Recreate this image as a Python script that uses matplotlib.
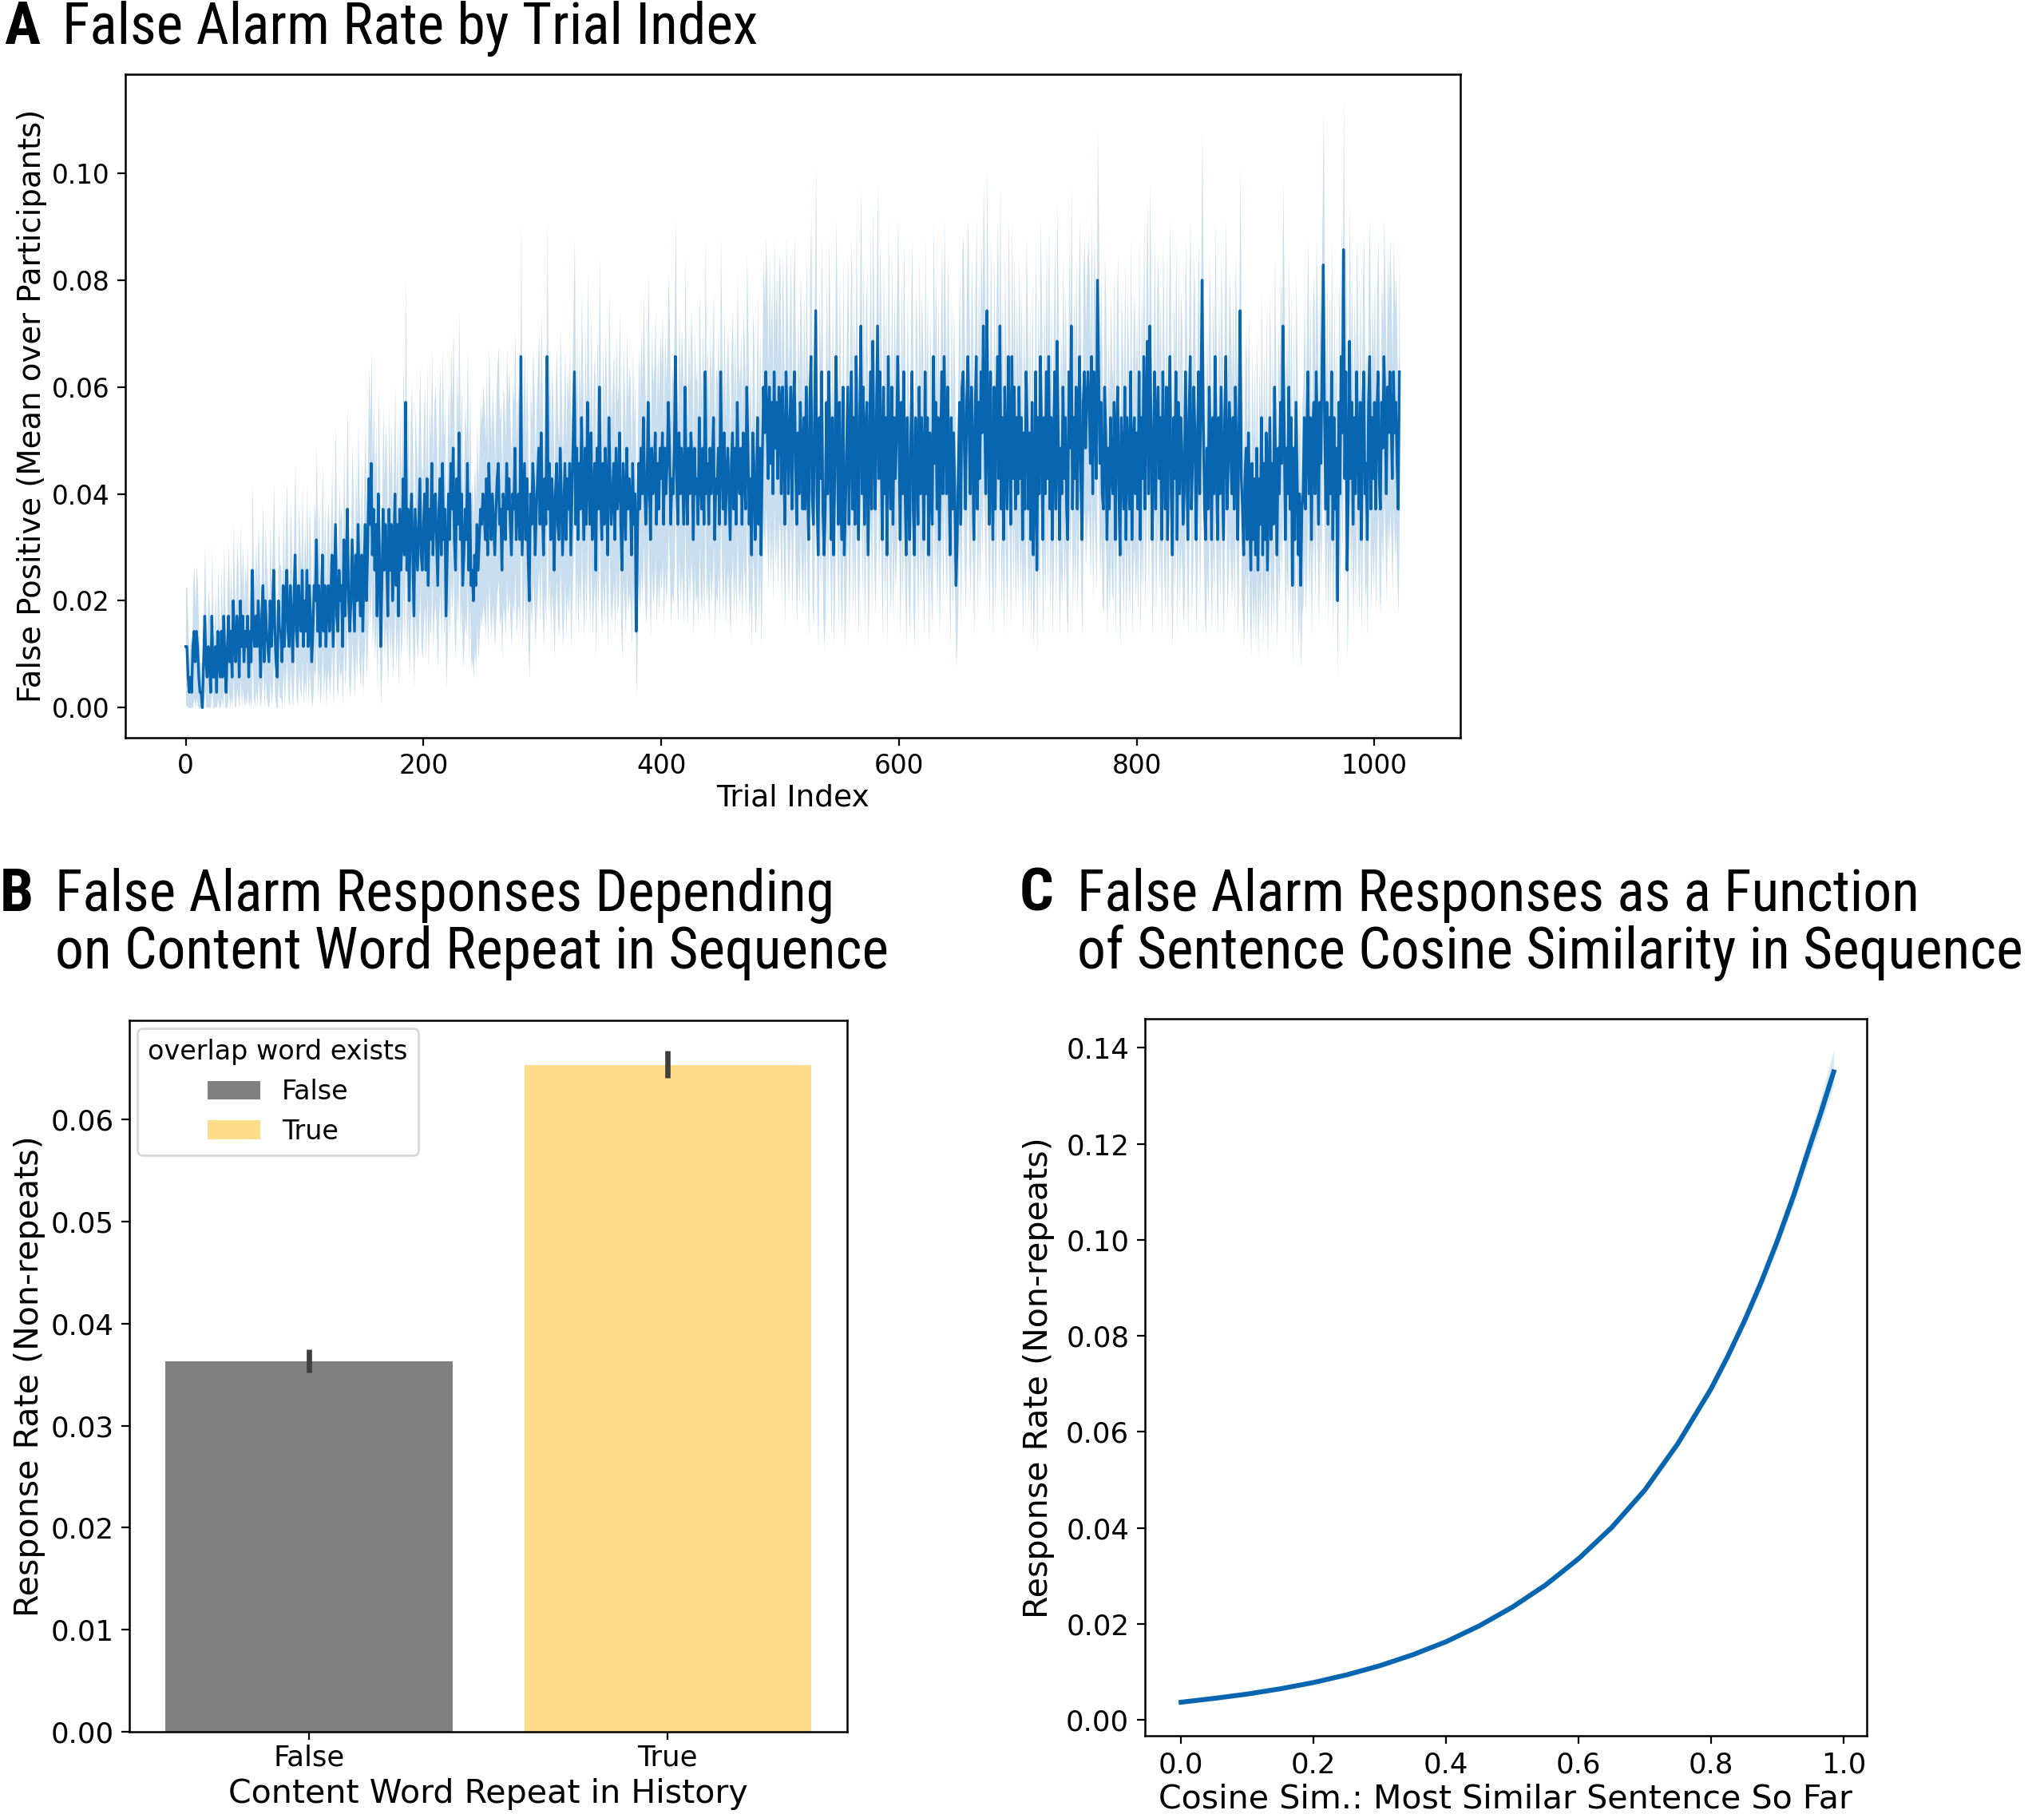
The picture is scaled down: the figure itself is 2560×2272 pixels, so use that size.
#### Workspace setup ####
import numpy as np
import matplotlib
matplotlib.use('Agg')
import matplotlib.pyplot as plt
from matplotlib import font_manager

#### Data ####
# Panel A: number of false alarms per trial index (out of N_PARTICIPANTS)
N_PARTICIPANTS = 350
FA_COUNTS = [
    4, 4, 2, 1, 2, 1, 4, 5, 3, 5, 4, 2, 1, 1, 0, 3, 6, 3, 2, 4,
    3, 1, 6, 2, 2, 4, 1, 5, 3, 2, 5, 2, 6, 3, 1, 4, 6, 3, 5, 2,
    7, 4, 3, 6, 5, 2, 7, 4, 6, 3, 5, 4, 6, 2, 5, 3, 9, 5, 4, 6,
    4, 7, 5, 2, 6, 8, 3, 7, 5, 4, 3, 7, 4, 6, 9, 5, 3, 2, 7, 5,
    5, 3, 8, 4, 7, 9, 5, 4, 8, 6, 3, 7, 10, 5, 4, 8, 6, 5, 9, 4,
    7, 5, 9, 4, 8, 6, 3, 5, 8, 7, 11, 5, 8, 4, 6, 10, 5, 8, 4, 7,
    8, 5, 7, 10, 4, 8, 12, 6, 5, 9, 7, 8, 4, 11, 6, 9, 13, 7, 5, 7,
    11, 8, 5, 10, 7, 12, 8, 6, 10, 5, 9, 12, 7, 10, 15, 12, 16, 10, 13, 9,
    12, 6, 14, 10, 4, 8, 13, 9, 12, 10, 6, 13, 9, 12, 7, 10, 14, 8, 12, 6,
    13, 9, 11, 15, 10, 20, 9, 13, 7, 12, 14, 10, 6, 13, 11, 9, 12, 15, 10, 9,
    12, 14, 9, 15, 8, 13, 11, 16, 10, 13, 14, 11, 8, 13, 15, 10, 16, 11, 13, 6,
    10, 14, 11, 16, 13, 17, 11, 9, 15, 12, 18, 11, 14, 8, 10, 13, 11, 16, 9, 14,
    8, 9, 7, 10, 8, 12, 9, 11, 13, 12, 14, 13, 11, 15, 10, 16, 13, 11, 14, 12,
    10, 13, 15, 16, 12, 13, 9, 14, 13, 11, 16, 13, 15, 12, 10, 14, 13, 17, 11, 13,
    14, 11, 23, 10, 13, 16, 11, 15, 10, 7, 14, 12, 16, 14, 10, 13, 15, 17, 12, 18,
    13, 10, 15, 12, 23, 13, 16, 11, 15, 13, 9, 14, 16, 12, 11, 17, 14, 10, 13, 16,
    11, 15, 13, 16, 10, 14, 18, 22, 12, 17, 11, 16, 13, 19, 14, 11, 17, 12, 20, 15,
    12, 18, 11, 14, 16, 9, 17, 13, 21, 14, 11, 16, 12, 17, 14, 10, 19, 15, 12, 14,
    16, 11, 17, 13, 14, 18, 12, 9, 16, 14, 11, 17, 13, 15, 14, 10, 16, 12, 14, 5,
    11, 16, 13, 17, 14, 19, 15, 12, 14, 20, 15, 11, 17, 14, 15, 18, 12, 16, 13, 17,
    15, 18, 12, 17, 14, 16, 20, 17, 12, 15, 14, 17, 23, 15, 12, 18, 14, 17, 15, 12,
    21, 15, 12, 17, 14, 18, 16, 11, 17, 14, 15, 12, 19, 15, 13, 17, 12, 22, 14, 16,
    12, 17, 14, 16, 19, 11, 15, 14, 17, 12, 22, 16, 13, 18, 12, 15, 17, 14, 11, 16,
    18, 13, 17, 12, 20, 15, 14, 17, 12, 18, 16, 13, 21, 17, 12, 15, 10, 18, 16, 11,
    13, 19, 12, 17, 10, 16, 21, 18, 22, 19, 15, 21, 16, 20, 14, 22, 17, 20, 15, 21,
    20, 14, 21, 17, 12, 22, 19, 14, 18, 21, 13, 19, 22, 16, 12, 18, 14, 20, 17, 13,
    19, 13, 21, 15, 11, 20, 23, 14, 12, 19, 26, 14, 10, 19, 15, 22, 13, 10, 13, 20,
    14, 22, 17, 11, 19, 10, 15, 23, 18, 12, 20, 14, 11, 21, 10, 13, 17, 21, 12, 18,
    22, 13, 19, 12, 23, 16, 11, 19, 25, 14, 21, 12, 18, 20, 10, 16, 22, 13, 24, 17,
    13, 19, 25, 15, 22, 17, 11, 21, 14, 19, 10, 23, 16, 13, 21, 12, 19, 15, 18, 23,
    18, 11, 20, 14, 22, 15, 10, 19, 14, 11, 18, 22, 13, 10, 19, 17, 12, 21, 14, 19,
    16, 11, 22, 14, 19, 10, 18, 14, 12, 23, 16, 20, 13, 19, 11, 17, 22, 14, 23, 18,
    14, 21, 16, 10, 19, 13, 18, 14, 8, 11, 16, 20, 12, 21, 22, 17, 13, 20, 23, 18,
    14, 21, 17, 11, 19, 23, 13, 20, 15, 22, 18, 25, 20, 14, 26, 18, 12, 22, 16, 11,
    21, 13, 19, 23, 15, 25, 13, 19, 11, 21, 16, 13, 23, 18, 12, 23, 15, 21, 13, 19,
    14, 21, 15, 19, 11, 18, 13, 22, 18, 13, 18, 11, 20, 10, 14, 22, 9, 19, 14, 23,
    18, 11, 19, 14, 22, 15, 23, 13, 19, 11, 17, 22, 13, 24, 18, 11, 17, 14, 21, 15,
    19, 13, 11, 22, 17, 25, 13, 19, 15, 21, 13, 19, 23, 15, 11, 20, 22, 17, 20, 22,
    20, 16, 23, 14, 22, 19, 15, 28, 22, 16, 20, 14, 13, 21, 18, 11, 17, 13, 19, 15,
    14, 20, 11, 18, 21, 14, 10, 19, 16, 13, 21, 11, 19, 16, 13, 22, 11, 17, 19, 14,
    18, 13, 22, 11, 19, 15, 23, 13, 20, 24, 14, 25, 19, 11, 16, 22, 13, 19, 21, 15,
    19, 11, 22, 16, 13, 21, 11, 19, 23, 14, 10, 19, 15, 22, 11, 20, 14, 19, 17, 12,
    14, 22, 17, 11, 19, 23, 13, 16, 21, 18, 11, 17, 22, 14, 20, 28, 19, 13, 11, 17,
    13, 21, 17, 11, 19, 14, 23, 16, 11, 19, 14, 21, 16, 11, 19, 23, 13, 16, 20, 17,
    14, 19, 13, 21, 17, 11, 18, 26, 15, 13, 10, 15, 17, 11, 18, 13, 9, 16, 11, 15,
    10, 17, 9, 15, 12, 19, 10, 16, 11, 18, 9, 14, 19, 11, 16, 12, 21, 15, 10, 17,
    14, 20, 16, 25, 19, 11, 17, 14, 21, 13, 19, 8, 17, 11, 20, 15, 10, 14, 8, 13,
    14, 19, 13, 17, 22, 14, 19, 11, 18, 20, 14, 22, 18, 12, 20, 16, 23, 29, 19, 13,
    20, 12, 19, 14, 22, 11, 19, 13, 17, 7, 20, 14, 23, 18, 30, 15, 22, 9, 14, 24,
    15, 20, 12, 19, 14, 22, 17, 13, 20, 11, 19, 22, 14, 16, 11, 20, 23, 13, 19, 15,
    20, 13, 19, 22, 15, 13, 20, 17, 23, 19, 14, 21, 18, 22, 19, 15, 22, 18, 20, 16,
    13, 22,
]

# Panel B: mean response rate and 95% CI by content word repeat
B_CATEGORIES = ['False', 'True']
B_MEANS = [0.0363, 0.0653]
B_CI_LOW = [0.0352, 0.0641]
B_CI_HIGH = [0.0375, 0.0667]

# Panel C: fitted response rate vs cosine similarity
C_X = [0.0, 0.05, 0.1, 0.15, 0.2, 0.25, 0.3, 0.35, 0.4, 0.45, 0.5, 0.55,
       0.6, 0.65, 0.7, 0.75, 0.8, 0.825, 0.85, 0.875, 0.9, 0.925, 0.95, 0.965, 0.985]
C_Y = [0.0037, 0.0045, 0.0054, 0.0065, 0.0078, 0.0094, 0.0113, 0.0136, 0.0163,
       0.0196, 0.0235, 0.0281, 0.0336, 0.0401, 0.0479, 0.0576, 0.0690, 0.0757,
       0.0830, 0.0910, 0.0998, 0.1094, 0.1200, 0.1262, 0.1350]
C_LO = [0.0034, 0.0042, 0.0052, 0.0063, 0.0076, 0.0092, 0.0111, 0.0134, 0.0161,
        0.0194, 0.0233, 0.0279, 0.0333, 0.0397, 0.0474, 0.0570, 0.0682, 0.0748,
        0.0819, 0.0897, 0.0982, 0.1075, 0.1178, 0.1236, 0.1322]
C_HI = [0.0040, 0.0048, 0.0057, 0.0067, 0.0080, 0.0096, 0.0115, 0.0138, 0.0165,
        0.0198, 0.0238, 0.0284, 0.0339, 0.0405, 0.0484, 0.0582, 0.0698, 0.0767,
        0.0842, 0.0925, 0.1016, 0.1116, 0.1226, 0.1292, 0.1395]

#### Style ####
BLUE = '#0865b0'
GRAY = '#808080'
GOLD = '#fedc8a'

names = {f.name for f in font_manager.fontManager.ttflist}
TITLE_FONT = 'Roboto'
for cand in ['Liberation Sans Narrow', 'Roboto Condensed', 'Open Sans Condensed', 'Roboto']:
    if cand in names:
        TITLE_FONT = cand
        break

plt.rcParams['font.family'] = ['DejaVu Sans']
plt.rcParams['axes.linewidth'] = 0.9

fig = plt.figure(figsize=(12.8, 11.36), dpi=200)

# fit the title size so the panel A heading spans the same width as the reference
renderer = fig.canvas.get_renderer()
probe = fig.text(0, 0, 'False Alarm Rate by Trial Index', fontsize=26, family=TITLE_FONT)
probe_w = probe.get_window_extent(renderer).width
probe.remove()
TITLE_SIZE = 26 * 873 / probe_w


def panel_title(letter, x_letter, x_text, lines, y0, dy=0.0316):
    fig.text(x_letter, y0, letter, fontsize=TITLE_SIZE * 1.05, fontweight='bold',
             family=TITLE_FONT, va='baseline')
    for i, line in enumerate(lines):
        fig.text(x_text, y0 - i * dy, line, fontsize=TITLE_SIZE,
                 family=TITLE_FONT, va='baseline')


#### Panel A ####
ax_a = fig.add_axes([0.0612, 0.5934, 0.6531, 0.3656])
counts = np.array(FA_COUNTS, dtype=float)
trials = np.arange(len(counts))
mean_rate = counts / N_PARTICIPANTS
se = np.sqrt(mean_rate * (1 - mean_rate) / N_PARTICIPANTS)
ax_a.fill_between(trials, np.clip(mean_rate - 1.96 * se, 0, None), mean_rate + 1.96 * se,
                  color=BLUE, alpha=0.22, linewidth=0)
ax_a.plot(trials, mean_rate, color=BLUE, linewidth=1.2)
ax_a.set_xlim(-51, 1072)
ax_a.set_ylim(-0.0056, 0.1185)
ax_a.set_xticks([0, 200, 400, 600, 800, 1000])
ax_a.set_yticks([0.0, 0.02, 0.04, 0.06, 0.08, 0.10])
ax_a.set_yticklabels(['0.00', '0.02', '0.04', '0.06', '0.08', '0.10'])
ax_a.tick_params(labelsize=11.8)
ax_a.set_xlabel('Trial Index', fontsize=13.5, labelpad=2)
ax_a.set_ylabel('False Positive (Mean over Participants)', fontsize=13.9, labelpad=2)
panel_title('A', 0.002, 0.0306, ['False Alarm Rate by Trial Index'], 0.976)

#### Panel B ####
ax_b = fig.add_axes([0.0633, 0.0453, 0.3512, 0.3922])
bx = np.arange(len(B_CATEGORIES))
bars = ax_b.bar(bx, B_MEANS, width=0.8, color=[GRAY, GOLD])
for xi, lo, hi in zip(bx, B_CI_LOW, B_CI_HIGH):
    ax_b.plot([xi, xi], [lo, hi], color='#3f3f3f', linewidth=2.4, solid_capstyle='butt')
ax_b.set_xlim(-0.5, 1.5)
ax_b.set_ylim(0, 0.0697)
ax_b.set_xticks(bx)
ax_b.set_xticklabels(B_CATEGORIES)
ax_b.set_yticks([0.0, 0.01, 0.02, 0.03, 0.04, 0.05, 0.06])
ax_b.set_yticklabels(['0.00', '0.01', '0.02', '0.03', '0.04', '0.05', '0.06'])
ax_b.tick_params(labelsize=12.8)
ax_b.tick_params(axis='x', pad=2)
ax_b.set_xlabel('Content Word Repeat in History', fontsize=14.8, labelpad=3)
ax_b.set_ylabel('Response Rate (Non-repeats)', fontsize=14.8, labelpad=2.5)
ax_b.legend(bars, B_CATEGORIES, title='overlap word exists', loc='upper left',
            fontsize=12, title_fontsize=12, borderaxespad=0.3)
panel_title('B', 0.0, 0.0268, ['False Alarm Responses Depending',
                               'on Content Word Repeat in Sequence'], 0.4978)

#### Panel C ####
ax_c = fig.add_axes([0.560, 0.0431, 0.3533, 0.3951])
ax_c.fill_between(C_X, C_LO, C_HI, color=BLUE, alpha=0.15, linewidth=0)
ax_c.plot(C_X, C_Y, color=BLUE, linewidth=2.2)
ax_c.set_xlim(-0.055, 1.035)
ax_c.set_ylim(-0.0033, 0.146)
ax_c.set_xticks([0.0, 0.2, 0.4, 0.6, 0.8, 1.0])
ax_c.set_yticks([0.0, 0.02, 0.04, 0.06, 0.08, 0.10, 0.12, 0.14])
ax_c.set_yticklabels(['0.00', '0.02', '0.04', '0.06', '0.08', '0.10', '0.12', '0.14'])
ax_c.tick_params(labelsize=12.8)
ax_c.set_xlabel('Cosine Sim.: Most Similar Sentence So Far', fontsize=14.8, labelpad=2)
ax_c.set_ylabel('Response Rate (Non-repeats)', fontsize=14.8, labelpad=5)
panel_title('C', 0.4987, 0.5268, ['False Alarm Responses as a Function',
                                  'of Sentence Cosine Similarity in Sequence'], 0.4978)

fig.savefig('out.png', dpi=200)
